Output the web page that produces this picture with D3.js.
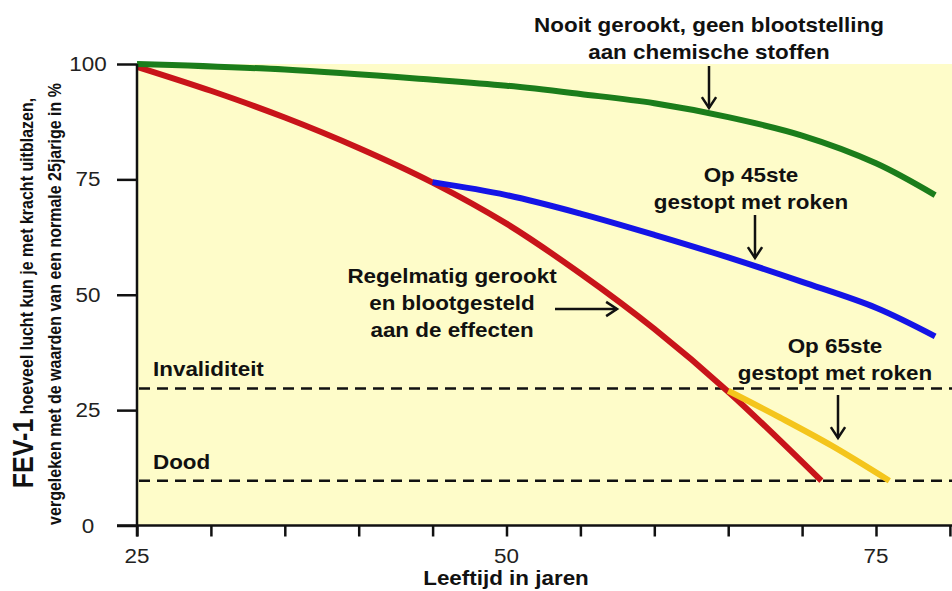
<!DOCTYPE html>
<html>
<head>
<meta charset="utf-8">
<script src="https://cdn.jsdelivr.net/npm/d3@7"></script>
<style>
  body { margin: 0; background: #fff; }
  svg text { font-family: "Liberation Sans", Arial, sans-serif; }
</style>
</head>
<body>
<div id="chart"></div>
<script>
// values (age in years, FEV-1 in %)
var neverSmoked = [[25, 100], [35, 98.8], [45, 96.6], [50, 95.3], [55, 93.5], [60, 91.5], [65, 88.5], [70, 84.5], [75, 78.5], [79, 71.6]];
var smoker = [[25, 99.4], [30, 94.2], [35, 88.4], [40, 81.8], [45, 74.3], [50, 65.4], [55, 54.6], [60, 42.6], [65, 29], [71.3, 9.7]];
var stopped45 = [[45, 74.4], [50, 71.6], [55, 67.6], [60, 63], [65, 58.1], [70, 52.8], [75, 47.2], [79, 41]];
var stopped65 = [[65, 29.2], [68.5, 23.4], [72, 17.3], [75.9, 9.7]];
var thresholds = [{ label: 'Invaliditeit', value: 29.7 }, { label: 'Dood', value: 9.7 }];
var yTicks = [0, 25, 50, 75, 100];
var xTicks = d3.range(25, 81, 5);
var xLabels = [25, 50, 75];

var width = 952,
    height = 591,
    stretch = 1.15; // the original lettering is a bit wide

var x = d3.scaleLinear().domain([25, 75]).range([137, 876]);
var y = d3.scaleLinear().domain([0, 100]).range([525.5, 64]);

var svg = d3.select('#chart').append('svg')
    .attr('width', width)
    .attr('height', height);

// horizontal text, widened like the original
function label(px, py, str, size, bold, anchor) {
    return svg.append('text')
        .attr('transform', 'translate(' + px + ',' + py + ') scale(' + stretch + ',1)')
        .attr('text-anchor', anchor || 'middle')
        .attr('font-size', size)
        .attr('font-weight', bold ? 'bold' : 'normal')
        .attr('fill', bold ? '#111' : '#222')
        .text(str);
}

// pale yellow plot area
svg.append('rect')
    .attr('x', x(25))
    .attr('y', y(100))
    .attr('width', width - x(25))
    .attr('height', y(0) - y(100))
    .attr('fill', '#fefcc9');

// dashed reference levels
svg.selectAll('.level')
    .data(thresholds)
    .enter().append('line')
    .attr('class', 'level')
    .attr('x1', x(25) + 2)
    .attr('x2', width)
    .attr('y1', function(d) { return y(d.value); })
    .attr('y2', function(d) { return y(d.value); })
    .attr('stroke', '#111')
    .attr('stroke-width', 2.5)
    .attr('stroke-dasharray', '11,7');

thresholds.forEach(function(d) {
    label(153, y(d.value) - 12, d.label, 19.5, true, 'start');
});

// curves
var line = d3.line()
    .x(function(d) { return x(d[0]); })
    .y(function(d) { return y(d[1]); })
    .curve(d3.curveCatmullRom.alpha(0.5));

var series = [
    { data: smoker, color: '#c8141a' },
    { data: stopped65, color: '#f4c51c' },
    { data: stopped45, color: '#1414e6' },
    { data: neverSmoked, color: '#1b7d1b' }
];

svg.selectAll('.curve')
    .data(series)
    .enter().append('path')
    .attr('class', 'curve')
    .attr('d', function(d) { return line(d.data); })
    .attr('fill', 'none')
    .attr('stroke', function(d) { return d.color; })
    .attr('stroke-width', 6);

// axes
var yAxis = d3.axisLeft(y).tickValues(yTicks).tickSize(20).tickFormat('');
var gy = svg.append('g').attr('transform', 'translate(' + x(25) + ',0)').call(yAxis);
gy.select('.domain').remove();
gy.selectAll('line').attr('stroke', '#111').attr('stroke-width', 2.5);
yTicks.forEach(function(v) {
    label(88, y(v) + 7, v, 19.5, false);
});

var xAxis = d3.axisBottom(x).tickValues(xTicks).tickSize(11).tickFormat('');
var gx = svg.append('g').attr('transform', 'translate(0,' + y(0) + ')').call(xAxis);
gx.select('.domain').remove();
gx.selectAll('line').attr('stroke', '#111').attr('stroke-width', 2.5);
xLabels.forEach(function(v) {
    label(x(v), 563, v, 19.5, false);
});

svg.append('line')
    .attr('x1', x(25)).attr('x2', x(25))
    .attr('y1', y(100)).attr('y2', y(0) + 11)
    .attr('stroke', '#111').attr('stroke-width', 2.5);
svg.append('line')
    .attr('x1', x(25) - 20).attr('x2', width)
    .attr('y1', y(0)).attr('y2', y(0))
    .attr('stroke', '#111').attr('stroke-width', 2.5);

// axis titles
label(506, 585, 'Leeftijd in jaren', 19.5, true);

var yTitle = svg.append('text')
    .attr('transform', 'translate(33,293) rotate(-90) scale(1,' + stretch + ')')
    .attr('text-anchor', 'middle')
    .attr('font-weight', 'bold')
    .attr('fill', '#111');
yTitle.append('tspan').attr('font-size', 25).text('FEV-1');
yTitle.append('tspan').attr('font-size', 16).text(' hoeveel lucht kun je met kracht uitblazen,');

svg.append('text')
    .attr('transform', 'translate(61,304) rotate(-90) scale(1,' + stretch + ')')
    .attr('text-anchor', 'middle')
    .attr('font-size', 16)
    .attr('font-weight', 'bold')
    .attr('fill', '#111')
    .text('vergeleken met de waarden van een normale 25jarige in %');

// annotations with arrows
var notes = [
    { lines: ['Nooit gerookt, geen blootstelling', 'aan chemische stoffen'], x: 709, y: 32, arrow: [709, 66, 709, 108] },
    { lines: ['Op 45ste', 'gestopt met roken'], x: 751, y: 182, arrow: [755, 215, 755, 258] },
    { lines: ['Regelmatig gerookt', 'en blootgesteld', 'aan de effecten'], x: 452, y: 283, arrow: [555, 309, 617, 309] },
    { lines: ['Op 65ste', 'gestopt met roken'], x: 835, y: 353, arrow: [838, 395, 838, 438] }
];

notes.forEach(function(n) {
    n.lines.forEach(function(s, i) {
        label(n.x, n.y + i * 27, s, 19.5, true);
    });
    var a = n.arrow,
        ang = Math.atan2(a[3] - a[1], a[2] - a[0]),
        len = 13, spread = 0.58;
    svg.append('line')
        .attr('x1', a[0]).attr('y1', a[1])
        .attr('x2', a[2]).attr('y2', a[3])
        .attr('stroke', '#111')
        .attr('stroke-width', 2.5);
    svg.append('path')
        .attr('d', 'M' + (a[2] - len * Math.cos(ang - spread)) + ',' + (a[3] - len * Math.sin(ang - spread)) +
            'L' + a[2] + ',' + a[3] +
            'L' + (a[2] - len * Math.cos(ang + spread)) + ',' + (a[3] - len * Math.sin(ang + spread)))
        .attr('fill', 'none')
        .attr('stroke', '#111')
        .attr('stroke-width', 2.5);
});
</script>
</body>
</html>
